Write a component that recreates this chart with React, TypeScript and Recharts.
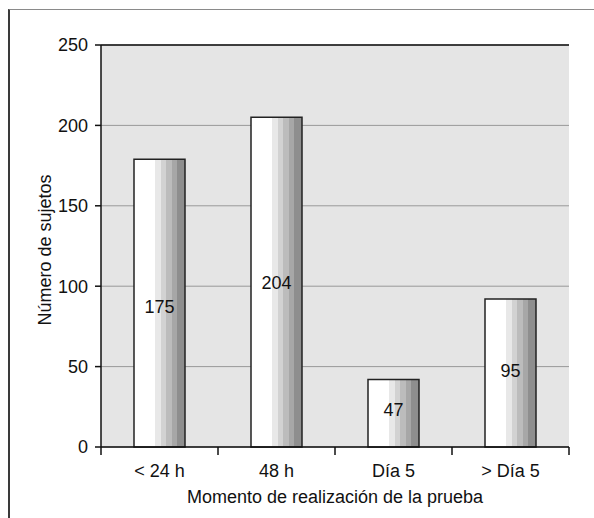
import {
  BarChart,
  Bar,
  XAxis,
  YAxis,
  CartesianGrid,
  ReferenceLine,
  LabelList,
  Label,
} from "recharts";

const CATEGORIES = ["< 24 h", "48 h", "Día 5", "> Día 5"];
// bar heights as they are drawn against the axis
const BAR_HEIGHTS = [179, 205, 42, 92];
// numbers printed inside the bars
const BAR_LABELS = [175, 204, 47, 95];
const Y_TICKS = [0, 50, 100, 150, 200, 250];

const data = CATEGORIES.map((name, i) => ({
  name,
  value: BAR_HEIGHTS[i],
  label: BAR_LABELS[i],
}));

const W = 594;
const H = 518;
const MARGIN = { top: 45, right: 25, left: 0, bottom: 0 };
const Y_AXIS_W = 101;
const X_AXIS_H = 71;
const PLOT_W = W - MARGIN.left - MARGIN.right - Y_AXIS_W;
const BAND = PLOT_W / CATEGORIES.length;
const TICK_GAP = 17;
const FONT = '"Liberation Sans", Arial, Helvetica, sans-serif';
const INK = "#111";

function XTick({ x, y, payload, index }: any) {
  const axisY = y - TICK_GAP;
  const left = x - BAND / 2;
  const right = x + BAND / 2;
  return (
    <g>
      <line x1={left} x2={left} y1={axisY} y2={axisY + 8} stroke={INK} strokeWidth={1.5} />
      {index === CATEGORIES.length - 1 && (
        <line x1={right} x2={right} y1={axisY} y2={axisY + 8} stroke={INK} strokeWidth={1.5} />
      )}
      <text x={x} y={y + 13} textAnchor="middle" fontSize={18} fill={INK}>
        {payload.value}
      </text>
    </g>
  );
}

function BarLabel({ x, y, width, height, index }: any) {
  const ratio = BAR_LABELS[index] / BAR_HEIGHTS[index];
  const cy = y + height - (height * ratio) / 2;
  return (
    <text x={x + width / 2} y={cy + 6.4} textAnchor="middle" fontSize={18} fill={INK}>
      {BAR_LABELS[index]}
    </text>
  );
}

function YTitle() {
  const cx = 45;
  const cy = 250;
  return (
    <text
      x={cx}
      y={cy}
      dy={6.4}
      transform={`rotate(-90, ${cx}, ${cy})`}
      textAnchor="middle"
      fontSize={18}
      fill={INK}
    >
      Número de sujetos
    </text>
  );
}

export default function App() {
  return (
    <div
      style={{
        position: "absolute",
        left: 0,
        top: 0,
        width: W,
        height: H,
        background: "#fff",
        fontFamily: FONT,
        overflow: "hidden",
      }}
    >
      {/* page frame */}
      <div
        style={{
          position: "absolute",
          left: 8,
          top: 9,
          width: W - 8,
          height: H,
          borderTop: "1.5px solid #8a8a8a",
          borderLeft: "2px solid #3a3a3a",
        }}
      />
      <div style={{ position: "absolute", left: 0, top: 0 }}>
        <BarChart width={W} height={H} data={data} margin={MARGIN} barSize={51}>
          <defs>
            <linearGradient id="barShade" x1="0" y1="0" x2="1" y2="0">
              <stop offset="0" stopColor="#ffffff" />
              <stop offset="0.42" stopColor="#ffffff" />
              <stop offset="0.42" stopColor="#e8e8e8" />
              <stop offset="0.52" stopColor="#e8e8e8" />
              <stop offset="0.52" stopColor="#d2d2d2" />
              <stop offset="0.63" stopColor="#d2d2d2" />
              <stop offset="0.63" stopColor="#bcbcbc" />
              <stop offset="0.74" stopColor="#bcbcbc" />
              <stop offset="0.74" stopColor="#a7a7a7" />
              <stop offset="0.85" stopColor="#a7a7a7" />
              <stop offset="0.85" stopColor="#8e8e8e" />
              <stop offset="1" stopColor="#8e8e8e" />
            </linearGradient>
          </defs>
          <CartesianGrid vertical={false} stroke="#999" fill="#e5e5e5" fillOpacity={1} />
          <XAxis
            dataKey="name"
            height={X_AXIS_H}
            interval={0}
            tickSize={0}
            tickMargin={TICK_GAP}
            tickLine={false}
            axisLine={{ stroke: INK, strokeWidth: 1.5 }}
            tick={<XTick />}
          >
            <Label
              value="Momento de realización de la prueba"
              position="insideBottom"
              offset={15}
              fontSize={18}
              fill={INK}
            />
          </XAxis>
          <YAxis
            width={Y_AXIS_W}
            domain={[0, 250]}
            ticks={Y_TICKS}
            interval={0}
            tickSize={6}
            tickMargin={7}
            tickLine={{ stroke: INK, strokeWidth: 1.5 }}
            axisLine={{ stroke: INK, strokeWidth: 1.5 }}
            tick={{ fill: INK, fontSize: 18 }}
          >
            <Label content={<YTitle />} />
          </YAxis>
          <YAxis
            yAxisId="right"
            orientation="right"
            width={0}
            domain={[0, 250]}
            tick={false}
            tickLine={false}
            axisLine={{ stroke: INK, strokeWidth: 1.5 }}
          />
          <ReferenceLine y={250} stroke={INK} strokeWidth={1.5} />
          <Bar
            dataKey="value"
            fill="url(#barShade)"
            stroke="#222"
            strokeWidth={1.5}
            isAnimationActive={false}
          >
            <LabelList dataKey="label" content={<BarLabel />} />
          </Bar>
        </BarChart>
      </div>
    </div>
  );
}
